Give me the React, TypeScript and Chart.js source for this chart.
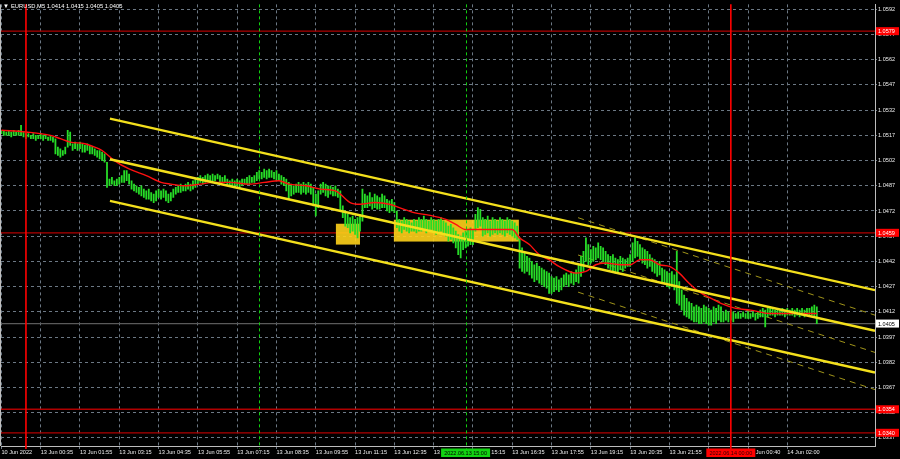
import React, { useEffect, useRef } from 'react';
import { Chart, registerables } from 'chart.js';

Chart.register(...registerables);

// ---------- DATA ----------
const symbolTitle = 'EURUSD,M5 1.0414 1.0415 1.0405 1.0405';
const firstBar = -9; // bar index of the first candle (bars counted in 5-minute steps)

const highs = [
  1.0520, 1.0520, 1.0519, 1.0520, 1.0519, 1.0520, 1.0519, 1.0520, 1.0523, 1.0519,
  1.0518, 1.0518, 1.0517, 1.0518, 1.0517, 1.0517, 1.0518, 1.0517, 1.0517, 1.0516,
  1.0517, 1.0516, 1.0515, 1.0510, 1.0509, 1.0508, 1.0510, 1.0520, 1.0519, 1.0512,
  1.0513, 1.0512, 1.0513, 1.0512, 1.0511, 1.0512, 1.0511, 1.0510, 1.0509, 1.0508,
  1.0508, 1.0507, 1.0506, 1.0501, 1.0491, 1.0492, 1.0490, 1.0491, 1.0492, 1.0493,
  1.0496, 1.0496, 1.0494, 1.0490, 1.0488, 1.0487, 1.0486, 1.0487, 1.0485, 1.0484,
  1.0485, 1.0483, 1.0482, 1.0484, 1.0485, 1.0484, 1.0485, 1.0484, 1.0482, 1.0483,
  1.0485, 1.0486, 1.0487, 1.0488, 1.0487, 1.0488, 1.0489, 1.0488, 1.0490, 1.0491,
  1.0492, 1.0493, 1.0492, 1.0493, 1.0494, 1.0493, 1.0494, 1.0493, 1.0494, 1.0493,
  1.0492, 1.0493, 1.0491, 1.0490, 1.0491, 1.0490, 1.0491, 1.0490, 1.0491, 1.0491,
  1.0492, 1.0493, 1.0492, 1.0493, 1.0495, 1.0496, 1.0495, 1.0497, 1.0496, 1.0497,
  1.0496, 1.0495, 1.0496, 1.0494, 1.0493, 1.0492, 1.0491, 1.0489, 1.0488, 1.0487,
  1.0488, 1.0489, 1.0488, 1.0489, 1.0488, 1.0489, 1.0488, 1.0486, 1.0482, 1.0484,
  1.0488, 1.0489, 1.0488, 1.0487, 1.0487, 1.0486, 1.0487, 1.0485, 1.0484, 1.0475,
  1.0472, 1.0470, 1.0468, 1.0469, 1.0467, 1.0468, 1.0470, 1.0485, 1.0482, 1.0481,
  1.0483, 1.0480, 1.0482, 1.0481, 1.0480, 1.0482, 1.0481, 1.0479, 1.0478, 1.0479,
  1.0477, 1.0472, 1.0467, 1.0466, 1.0468, 1.0467, 1.0466, 1.0465, 1.0467, 1.0466,
  1.0468, 1.0467, 1.0469, 1.0467, 1.0466, 1.0468, 1.0467, 1.0466, 1.0467, 1.0468,
  1.0466, 1.0465, 1.0463, 1.0464, 1.0462, 1.0460, 1.0458, 1.0457, 1.0459, 1.0460,
  1.0461, 1.0462, 1.0461, 1.0470, 1.0474, 1.0473, 1.0468, 1.0467, 1.0469, 1.0466,
  1.0468, 1.0467, 1.0466, 1.0468, 1.0467, 1.0466, 1.0468, 1.0467, 1.0466, 1.0465,
  1.0463, 1.0456, 1.0450, 1.0447, 1.0445, 1.0444, 1.0442, 1.0440, 1.0441, 1.0439,
  1.0438, 1.0437, 1.0436, 1.0435, 1.0433, 1.0432, 1.0433, 1.0431, 1.0432, 1.0434,
  1.0435, 1.0434, 1.0436, 1.0435, 1.0437, 1.0440, 1.0445, 1.0448, 1.0456, 1.0452,
  1.0449, 1.0451, 1.0450, 1.0453, 1.0451, 1.0450, 1.0448, 1.0446, 1.0445, 1.0446,
  1.0444, 1.0443, 1.0445, 1.0444, 1.0443, 1.0444, 1.0446, 1.0453, 1.0456, 1.0454,
  1.0452, 1.0450, 1.0449, 1.0448, 1.0446, 1.0444, 1.0443, 1.0441, 1.0442, 1.0438,
  1.0437, 1.0436, 1.0435, 1.0436, 1.0434, 1.0448, 1.0430, 1.0425, 1.0422, 1.0420,
  1.0418, 1.0417, 1.0415, 1.0416, 1.0415, 1.0414, 1.0416, 1.0415, 1.0414, 1.0413,
  1.0415, 1.0414, 1.0416, 1.0415, 1.0412, 1.0413, 1.0412, 1.0413, 1.0412, 1.0411,
  1.0412, 1.0411, 1.0412, 1.0411, 1.0412, 1.0411, 1.0412, 1.0411, 1.0412, 1.0413,
  1.0414, 1.0413, 1.0414, 1.0415, 1.0414, 1.0413, 1.0414, 1.0413, 1.0414, 1.0413,
  1.0414, 1.0413, 1.0414, 1.0413, 1.0414, 1.0413, 1.0414, 1.0413, 1.0414, 1.0414,
  1.0415, 1.0416, 1.0415,
];

const lows = [
  1.0518, 1.0517, 1.0517, 1.0517, 1.0516, 1.0517, 1.0517, 1.0517, 1.0517, 1.0516,
  1.0515, 1.0516, 1.0515, 1.0515, 1.0514, 1.0515, 1.0515, 1.0514, 1.0515, 1.0514,
  1.0514, 1.0513, 1.0506, 1.0505, 1.0504, 1.0505, 1.0506, 1.0510, 1.0511, 1.0508,
  1.0509, 1.0508, 1.0509, 1.0507, 1.0507, 1.0508, 1.0506, 1.0506, 1.0505, 1.0504,
  1.0503, 1.0502, 1.0501, 1.0486, 1.0487, 1.0488, 1.0487, 1.0487, 1.0488, 1.0489,
  1.0489, 1.0490, 1.0488, 1.0485, 1.0484, 1.0483, 1.0482, 1.0481, 1.0480, 1.0479,
  1.0479, 1.0478, 1.0477, 1.0478, 1.0480, 1.0479, 1.0480, 1.0478, 1.0477, 1.0478,
  1.0480, 1.0482, 1.0483, 1.0483, 1.0484, 1.0484, 1.0485, 1.0484, 1.0485, 1.0486,
  1.0488, 1.0489, 1.0488, 1.0489, 1.0490, 1.0489, 1.0490, 1.0490, 1.0491, 1.0489,
  1.0489, 1.0489, 1.0487, 1.0487, 1.0487, 1.0486, 1.0487, 1.0486, 1.0487, 1.0488,
  1.0488, 1.0488, 1.0489, 1.0489, 1.0490, 1.0491, 1.0491, 1.0492, 1.0491, 1.0492,
  1.0492, 1.0491, 1.0490, 1.0490, 1.0488, 1.0487, 1.0484, 1.0479, 1.0481, 1.0482,
  1.0483, 1.0483, 1.0482, 1.0483, 1.0482, 1.0483, 1.0482, 1.0475, 1.0469, 1.0474,
  1.0482, 1.0483, 1.0481, 1.0480, 1.0482, 1.0481, 1.0481, 1.0480, 1.0472, 1.0468,
  1.0463, 1.0462, 1.0459, 1.0460, 1.0458, 1.0456, 1.0460, 1.0466, 1.0474, 1.0474,
  1.0475, 1.0473, 1.0474, 1.0473, 1.0473, 1.0474, 1.0474, 1.0472, 1.0471, 1.0472,
  1.0471, 1.0462, 1.0460, 1.0459, 1.0461, 1.0460, 1.0459, 1.0460, 1.0460, 1.0459,
  1.0460, 1.0460, 1.0461, 1.0459, 1.0460, 1.0461, 1.0460, 1.0458, 1.0459, 1.0460,
  1.0458, 1.0457, 1.0454, 1.0455, 1.0453, 1.0450, 1.0446, 1.0444, 1.0449, 1.0450,
  1.0451, 1.0452, 1.0452, 1.0460, 1.0462, 1.0463, 1.0457, 1.0458, 1.0459, 1.0457,
  1.0458, 1.0459, 1.0458, 1.0459, 1.0458, 1.0457, 1.0459, 1.0458, 1.0457, 1.0456,
  1.0455, 1.0438, 1.0436, 1.0435, 1.0436, 1.0434, 1.0432, 1.0430, 1.0431, 1.0429,
  1.0428, 1.0427, 1.0426, 1.0423, 1.0423, 1.0424, 1.0425, 1.0424, 1.0425, 1.0427,
  1.0428, 1.0427, 1.0429, 1.0428, 1.0430, 1.0429, 1.0433, 1.0436, 1.0442, 1.0440,
  1.0441, 1.0442, 1.0443, 1.0444, 1.0443, 1.0442, 1.0440, 1.0438, 1.0437, 1.0436,
  1.0435, 1.0435, 1.0437, 1.0436, 1.0438, 1.0439, 1.0439, 1.0442, 1.0444, 1.0445,
  1.0443, 1.0441, 1.0440, 1.0438, 1.0439, 1.0436, 1.0435, 1.0433, 1.0434, 1.0430,
  1.0429, 1.0427, 1.0426, 1.0427, 1.0425, 1.0417, 1.0416, 1.0413, 1.0410, 1.0409,
  1.0408, 1.0407, 1.0406, 1.0406, 1.0405, 1.0405, 1.0406, 1.0405, 1.0404, 1.0404,
  1.0406, 1.0405, 1.0407, 1.0406, 1.0406, 1.0407, 1.0406, 1.0407, 1.0406, 1.0408,
  1.0408, 1.0408, 1.0409, 1.0408, 1.0408, 1.0408, 1.0409, 1.0407, 1.0408, 1.0409,
  1.0409, 1.0403, 1.0409, 1.0410, 1.0410, 1.0409, 1.0410, 1.0410, 1.0410, 1.0409,
  1.0410, 1.0410, 1.0410, 1.0409, 1.0410, 1.0409, 1.0410, 1.0409, 1.0410, 1.0410,
  1.0410, 1.0409, 1.0405,
];

// moving average (red line)
const maBars = [
  -9, 1, 11, 15, 19, 25, 29, 32, 37, 43,
  50, 56, 60, 66, 72, 78, 84, 92, 98, 104,
  108, 115, 121, 127, 129, 133, 137, 143, 149, 153,
  159, 165, 172, 176, 180, 184, 186, 190, 196, 199,
  202, 206, 210, 214, 218, 225, 229, 233, 237, 243,
  247, 251, 255, 259, 263, 267, 271, 275, 280, 284,
  290, 296, 304, 312, 320, 323,
];
const maValues = [
  1.0520, 1.0519, 1.0517, 1.0515, 1.0513, 1.0512, 1.0510, 1.0508, 1.0502, 1.0497,
  1.0493, 1.0489, 1.0488, 1.0487, 1.0488, 1.0489, 1.0489, 1.0488, 1.0489, 1.0490,
  1.0488, 1.0487, 1.0485, 1.0484, 1.0482, 1.0477, 1.0476, 1.0477, 1.0476, 1.0474,
  1.0471, 1.04695, 1.0467, 1.0464, 1.0461, 1.0461, 1.0461, 1.0461, 1.0461, 1.0461,
  1.0456, 1.0452, 1.0446, 1.0443, 1.0439, 1.0435, 1.0436, 1.0440, 1.0441, 1.0440,
  1.0440, 1.0443, 1.0443, 1.0440, 1.0439, 1.0435, 1.0429, 1.0424, 1.0420, 1.0417,
  1.0414, 1.0413, 1.0411, 1.0411, 1.0411, 1.0411,
];

// equidistant channel (solid yellow)
const channelBars = [35.2, 346.7];
const channelUpper = [1.05270, 1.04249];
const channelMiddle = [1.05028, 1.04007];
const channelLower = [1.04780, 1.03759];

// regression channel (thin dashed)
const regBars = [225.8, 346.7];
const regUpper = [1.04680, 1.04100];
const regMiddle = [1.04458, 1.03878];
const regLower = [1.04237, 1.03657];

// rectangles (bar from, bar to) and (price top, price bottom)
const zoneBars = [[127.2, 137.0], [150.8, 201.7]];
const zonePrices = [[1.04644, 1.04520], [1.04668, 1.04538]];

// horizontal levels and last price
const levelPrices = [1.0579, 1.0459, 1.0354, 1.0340];
const lastPrice = 1.0405;

// vertical markers
const redMarkerBars = [1, 288];
const greenMarkerBars = [96, 180];
const redMarkerLabel = '2022.06.14 00:00';
const greenMarkerLabel = '2022.06.13 15:00';

// axes
const priceTicks = [
  1.0592, 1.0577, 1.0562, 1.0547, 1.0532, 1.0517, 1.0502, 1.0487, 1.0472,
  1.0457, 1.0442, 1.0427, 1.0412, 1.0397, 1.0382, 1.0367, 1.0352, 1.0337,
];
const timeTickBars = [-9, 7, 23, 39, 55, 71, 87, 103, 119, 135, 151, 167, 183, 199, 215, 231, 247, 263, 279, 295, 311];
const timeTickLabels = [
  '10 Jun 2022', '13 Jun 00:35', '13 Jun 01:55', '13 Jun 03:15', '13 Jun 04:35', '13 Jun 05:55',
  '13 Jun 07:15', '13 Jun 08:35', '13 Jun 09:55', '13 Jun 11:15', '13 Jun 12:35', '13 Jun 13:55',
  '13 Jun 15:15', '13 Jun 16:35', '13 Jun 17:55', '13 Jun 19:15', '13 Jun 20:35', '13 Jun 21:55',
  '13 Jun 23:15', '14 Jun 00:40', '14 Jun 02:00',
];
const xRange = [-9.161, 346.7];
const yRange = [1.033214, 1.059495];

// ---------- STYLE ----------
const FONT = "'Liberation Sans', 'DejaVu Sans', Arial, sans-serif";
const TXT = '#ececec';
const GRID = '#6c7884';
const FRAME = '#bdbdbd';

function hline(ctx: CanvasRenderingContext2D, x0: number, x1: number, y: number) {
  ctx.beginPath();
  ctx.moveTo(x0, y);
  ctx.lineTo(x1, y);
  ctx.stroke();
}
function vline(ctx: CanvasRenderingContext2D, x: number, y0: number, y1: number) {
  ctx.beginPath();
  ctx.moveTo(x, y0);
  ctx.lineTo(x, y1);
  ctx.stroke();
}

const overlayPlugin = {
  id: 'mtOverlay',
  beforeDraw(chart: any) {
    const c = chart.ctx;
    c.save();
    c.fillStyle = '#000';
    c.fillRect(0, 0, chart.width, chart.height);
    c.restore();
  },
  beforeDatasetsDraw(chart: any) {
    const { ctx, chartArea: a, scales } = chart;
    const x = scales.x, y = scales.y;
    ctx.save();
    ctx.beginPath();
    ctx.rect(a.left, a.top, a.right - a.left, a.bottom - a.top);
    ctx.clip();
    // last price line
    ctx.strokeStyle = '#5a5a5a';
    ctx.lineWidth = 1.2;
    hline(ctx, a.left, a.right, y.getPixelForValue(lastPrice));
    // levels
    ctx.strokeStyle = '#b00000';
    ctx.lineWidth = 1.3;
    levelPrices.forEach((p) => hline(ctx, a.left, a.right, y.getPixelForValue(p)));
    // zones
    ctx.globalAlpha = 0.9;
    ctx.fillStyle = '#ffd21a';
    zoneBars.forEach((b, k) => {
      const x0 = x.getPixelForValue(b[0]);
      const x1 = x.getPixelForValue(b[1]);
      const y0 = y.getPixelForValue(zonePrices[k][0]);
      const y1 = y.getPixelForValue(zonePrices[k][1]);
      ctx.fillRect(x0, y0, x1 - x0, y1 - y0);
    });
    ctx.restore();
  },
  afterDatasetsDraw(chart: any) {
    const { ctx, chartArea: a, scales } = chart;
    const x = scales.x;
    ctx.save();
    ctx.strokeStyle = '#10d010';
    ctx.lineWidth = 1;
    ctx.setLineDash([3, 3]);
    greenMarkerBars.forEach((b) => vline(ctx, Math.round(x.getPixelForValue(b)) + 0.5, a.top, a.bottom + 3));
    ctx.setLineDash([]);
    ctx.strokeStyle = '#ff0000';
    ctx.lineWidth = 1.6;
    redMarkerBars.forEach((b) => vline(ctx, x.getPixelForValue(b), a.top, a.bottom + 3));
    ctx.restore();
  },
  afterDraw(chart: any) {
    const { ctx, chartArea: a, scales } = chart;
    const x = scales.x, y = scales.y;
    ctx.save();
    // left frame
    ctx.strokeStyle = FRAME;
    ctx.lineWidth = 1;
    vline(ctx, a.left - 0.5, a.top, a.bottom);
    ctx.font = `5.5px ${FONT}`;
    ctx.textBaseline = 'middle';
    // price boxes on right axis
    const box = (p: number, fill: string, color: string) => {
      const py = y.getPixelForValue(p);
      ctx.fillStyle = fill;
      ctx.fillRect(a.right + 1, py - 4, 23, 8);
      ctx.fillStyle = color;
      ctx.textAlign = 'left';
      ctx.fillText(p.toFixed(4), a.right + 3, py + 0.5);
    };
    levelPrices.forEach((p) => box(p, '#ff0000', '#ffffff'));
    box(lastPrice, '#ffffff', '#000000');
    // time boxes on bottom axis
    const tbox = (b: number, fill: string, color: string, text: string) => {
      const px = x.getPixelForValue(b);
      ctx.fillStyle = fill;
      ctx.fillRect(px - 24.5, a.bottom + 2.5, 49, 8.5);
      ctx.fillStyle = color;
      ctx.textAlign = 'center';
      ctx.fillText(text, px, a.bottom + 7);
    };
    tbox(greenMarkerBars[1], '#12d212', '#000000', greenMarkerLabel);
    tbox(redMarkerBars[1], '#ff0000', '#300000', redMarkerLabel);
    // title
    ctx.fillStyle = '#ffffff';
    ctx.textAlign = 'left';
    ctx.font = `6px ${FONT}`;
    ctx.fillText('▼', 3, 6);
    ctx.font = `5.8px ${FONT}`;
    ctx.fillText(symbolTitle, 11, 6);
    ctx.restore();
  },
};

export default function App() {
  const ref = useRef<HTMLCanvasElement>(null);
  useEffect(() => {
    document.body.style.margin = '0';
    document.body.style.background = '#000';
    const canvas = ref.current!;
    const candleData = highs.map((h, k) => ({ x: firstBar + k, y: [lows[k], h] }));
    const seg = (bars: number[], vals: number[]) => bars.map((b, k) => ({ x: b, y: vals[k] }));
    const yellow = (vals: number[]) => ({
      type: 'line' as const,
      data: seg(channelBars, vals),
      borderColor: '#f4e01c',
      borderWidth: 2.4,
      pointRadius: 0,
      order: 0,
    });
    const dashed = (vals: number[]) => ({
      type: 'line' as const,
      data: seg(regBars, vals),
      borderColor: '#a0941a',
      borderWidth: 1,
      borderDash: [6, 5],
      pointRadius: 0,
      order: 4,
    });
    const chart = new Chart(canvas, {
      type: 'bar',
      data: {
        datasets: [
          {
            type: 'bar',
            data: candleData as any,
            backgroundColor: '#27dc27',
            borderWidth: 0,
            barThickness: 1.15,
            grouped: false,
            order: 3,
          } as any,
          {
            type: 'line',
            data: seg(maBars, maValues),
            borderColor: '#ff1010',
            borderWidth: 1.4,
            pointRadius: 0,
            cubicInterpolationMode: 'monotone',
            order: 1,
          } as any,
          yellow(channelUpper),
          yellow(channelMiddle),
          yellow(channelLower),
          dashed(regUpper),
          dashed(regMiddle),
          dashed(regLower),
        ],
      },
      options: {
        animation: false,
        responsive: false,
        devicePixelRatio: 1,
        layout: { padding: { left: 1, top: 1, right: 0, bottom: 0 } },
        plugins: { legend: { display: false }, tooltip: { enabled: false } },
        events: [],
        scales: {
          x: {
            type: 'linear',
            position: 'bottom',
            min: xRange[0],
            max: xRange[1],
            offset: false,
            afterBuildTicks: (s: any) => {
              s.ticks = timeTickBars.map((v) => ({ value: v }));
            },
            afterFit: (s: any) => {
              s.height = 13;
            },
            ticks: {
              autoSkip: false,
              maxRotation: 0,
              minRotation: 0,
              align: 'start',
              padding: 0,
              color: TXT,
              font: { family: FONT, size: 5.6 },
              callback: (_v: any, i: number) => timeTickLabels[i],
            },
            grid: { color: GRID, lineWidth: 1, tickLength: 3, offset: false },
            border: { display: true, color: FRAME, width: 1, dash: [3, 3] },
          },
          y: {
            type: 'linear',
            position: 'right',
            min: yRange[0],
            max: yRange[1],
            afterBuildTicks: (s: any) => {
              s.ticks = priceTicks.map((v) => ({ value: v }));
            },
            afterFit: (s: any) => {
              s.width = 25;
            },
            ticks: {
              autoSkip: false,
              padding: 1,
              color: TXT,
              font: { family: FONT, size: 5.6 },
              callback: (v: any) => Number(v).toFixed(4),
            },
            grid: { color: GRID, lineWidth: 1, tickLength: 2 },
            border: { display: true, color: FRAME, width: 1, dash: [3, 3] },
          },
        },
      } as any,
      plugins: [overlayPlugin],
    });
    return () => chart.destroy();
  }, []);
  return (
    <canvas
      ref={ref}
      width={900}
      height={459}
      style={{ display: 'block', width: '900px', height: '459px' }}
    />
  );
}
